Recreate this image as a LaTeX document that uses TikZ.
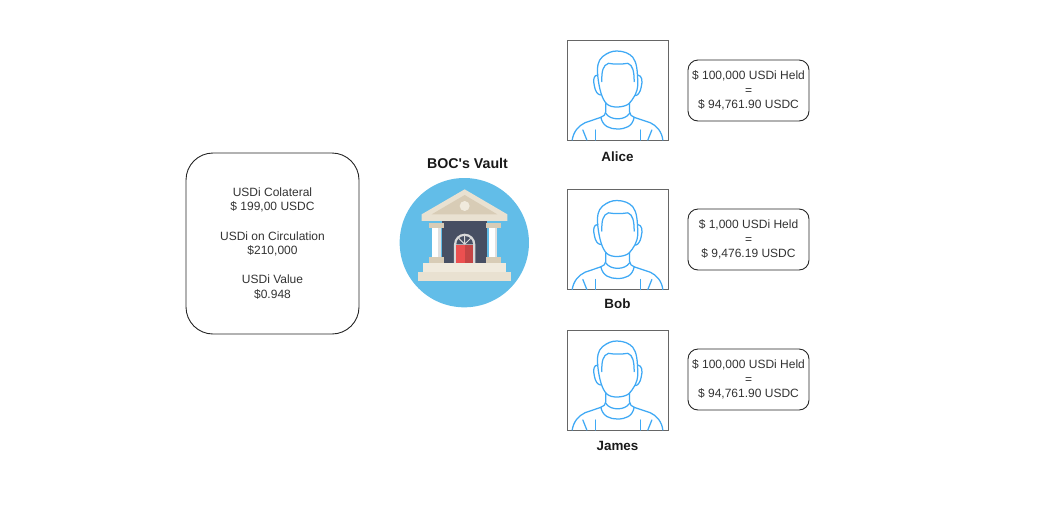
\documentclass[tikz,border=0pt]{standalone}
\usepackage{fontspec}
\setmainfont{Liberation Sans}[Ligatures=ResetAll]
\definecolor{txt}{HTML}{333333}
\definecolor{skyb}{HTML}{62BDE8}
\definecolor{pers}{HTML}{3FA9F5}
\definecolor{stoneA}{HTML}{E9E1D1}
\definecolor{stoneB}{HTML}{D8CCB6}
\definecolor{stoneC}{HTML}{F0EADD}
\definecolor{wallc}{HTML}{474F63}
\definecolor{redA}{HTML}{EC5050}
\definecolor{redB}{HTML}{C44545}
\tikzset{
  x=1pt,y=-1pt,
  infobox/.style={draw=black!85,line width=0.9pt,fill=white,rounded corners=27pt,minimum width=173pt,minimum height=181pt,inner sep=0pt,align=center,text=txt,font=\fontsize{12}{14.6}\selectfont},
  valuebox/.style={draw=black!85,line width=0.9pt,fill=white,rounded corners=10pt,minimum width=121pt,minimum height=61pt,inner sep=0pt,align=center,text=txt,font=\fontsize{12}{14.6}\selectfont},
  photo/.style={draw=black!60,line width=1pt,fill=white,minimum width=101pt,minimum height=100pt,inner sep=0pt},
  caption/.style={font=\bfseries\fontsize{13.4}{15}\selectfont,text=black!90,inner sep=0pt},
  figline/.style={draw=pers,line width=1.25pt,line cap=round,line join=round},
  person/.pic={
    \begin{scope}[x=0.3333pt,y=-0.3333pt,shift={(-172,-180)}]
      % head outline, hair, face
      \draw[figline] (113,140) .. controls (110,110) and (113,92) .. (127,80) .. controls (142,68) and (155,63) .. (170,63) .. controls (190,63) and (208,70) .. (218,82) .. controls (230,98) and (232,120) .. (233,165) .. controls (232,185) and (222,205) .. (205,222) .. controls (192,232) and (155,236) .. (140,222) .. controls (125,208) and (117,175) .. (113,140);
      \draw[figline] (125,155) .. controls (124,125) and (128,105) .. (145,100) .. controls (160,103) and (185,103) .. (203,100) .. controls (218,105) and (222,125) .. (222,155);
      % ears
      \draw[figline] (113,135) .. controls (100,135) and (98,150) .. (103,170) .. controls (106,185) and (112,193) .. (121,195);
      \draw[figline] (233,135) .. controls (246,137) and (248,152) .. (243,172) .. controls (240,187) and (234,195) .. (226,197);
      % neck
      \draw[figline] (137,220) -- (137,245) .. controls (137,255) and (130,258) .. (122,262);
      \draw[figline] (208,220) -- (208,245) .. controls (208,255) and (215,258) .. (222,262);
      % collar
      \draw[figline] (137,250) .. controls (150,272) and (195,272) .. (208,250);
      \draw[figline] (122,262) .. controls (128,290) and (150,297) .. (172,297) .. controls (195,297) and (217,290) .. (222,262);
      % shoulders and sleeves
      \draw[figline] (122,262) -- (75,278) .. controls (55,287) and (40,305) .. (36,330);
      \draw[figline] (222,262) -- (270,278) .. controls (290,287) and (305,305) .. (308,330);
      \draw[figline] (68,300) -- (80,330);
      \draw[figline] (105,300) -- (105,330);
      \draw[figline] (240,300) -- (240,330);
      \draw[figline] (275,300) -- (263,330);
    \end{scope}
  }
}
\begin{document}
\begin{tikzpicture}
\useasboundingbox (0,0) rectangle (1050,507);
\node[infobox] (info) at (272.5,243.5) {USDi Colateral\\\$ 199,00 USDC\\[14.6pt]USDi on Circulation\\\$210,000\\[14.6pt]USDi Value\\\$0.948};

% vault
\node[caption,font=\bfseries\fontsize{14.2}{16}\selectfont] (vaulttitle) at (467.5,163.5) {BOC\textquotesingle s Vault};
\begin{scope}[shift={(390,150)},x=0.3333pt,y=-0.3333pt]
  \fill[skyb] (223,278) circle[radius=194];
  \fill[wallc] (155,213) rectangle (292,340);
  % columns
  \fill[white] (127,233) rectangle (145,322);
  \fill[black!12] (145,233) rectangle (152,322);
  \fill[white] (297,233) rectangle (315,322);
  \fill[black!12] (315,233) rectangle (322,322);
  \fill[stoneB] (117,218) rectangle (162,233);
  \fill[stoneB] (117,322) rectangle (162,340);
  \fill[stoneB] (287,218) rectangle (332,233);
  \fill[stoneB] (287,322) rectangle (332,340);
  % pediment
  \fill[stoneA] (95,193) -- (224,118) -- (352,193) -- (352,213) -- (95,213) -- cycle;
  \fill[stoneB] (125,193) -- (224,135) -- (322,193) -- cycle;
  \fill[stoneC] (224,168) circle[radius=15];
  % door
  \fill[black!15] (192,340) -- (192,283) arc[start angle=180,end angle=360,radius=32] -- (256,340) -- cycle;
  \fill[wallc] (199,283) arc[start angle=180,end angle=360,radius=25] -- cycle;
  \draw[black!15,line width=1pt] (224,283) -- (224,258) (224,283) -- (206,265) (224,283) -- (242,265);
  \fill[redA] (197,285) rectangle (224,340);
  \fill[redB] (224,285) rectangle (250,340);
  % steps
  \fill[stoneC] (100,340) rectangle (348,366);
  \fill[stoneA] (85,366) rectangle (362,392);
\end{scope}

% people
\node[photo] (alicephoto) at (617.5,90) {};
\node[photo] (bobphoto) at (617.5,239.5) {};
\node[photo] (jamesphoto) at (617.5,380) {};
\pic at (alicephoto.center) {person};
\pic at (bobphoto.center) {person};
\pic at (jamesphoto.center) {person};
\node[caption] (alice) at (617.5,156.5) {Alice};
\node[caption] (bob) at (617.5,303.5) {Bob};
\node[caption] (james) at (617.5,446) {James};

\node[valuebox] (aliceval) at (748.5,90.5) {\$ 100,000 USDi Held\\=\\\$ 94,761.90 USDC};
\node[valuebox] (bobval) at (748.5,239.5) {\$ 1,000 USDi Held\\=\\\$ 9,476.19 USDC};
\node[valuebox] (jamesval) at (748.5,379.5) {\$ 100,000 USDi Held\\=\\\$ 94,761.90 USDC};
\end{tikzpicture}
\end{document}
